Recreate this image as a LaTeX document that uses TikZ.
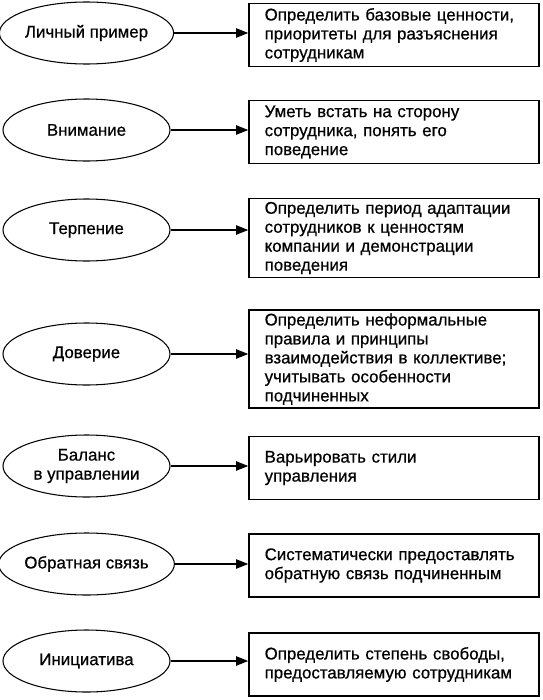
\documentclass[tikz,border=0pt]{standalone}
\usepackage{fontspec}
\setmainfont{Liberation Sans}[BoldFont=Liberation Sans,BoldFeatures={FakeBold=0.6}]
\usepackage{tikz}
\usetikzlibrary{shapes}
\usetikzlibrary{arrows.meta}
\tikzset{
	main node/.style={ellipse,draw,line width=0.9pt,minimum width=5.01cm,minimum height=1.86cm,
		inner sep=0pt,align=center,font=\fontsize{14.4}{16.2}\selectfont\bfseries},
	act node/.style={rectangle,draw,line width=1.4pt,text width=7.76cm,inner xsep=0.47cm,
		inner ysep=3pt,minimum height=1.9cm,align=left,font=\fontsize{14.4}{16.2}\selectfont\bfseries}
}

\begin{document}
\begin{tikzpicture}[->,>={Triangle[length=3.6mm,width=2.8mm]},line width=1pt,
		x=0.03cm,y=-0.03cm]
	\useasboundingbox (0,0) rectangle (543,700);
	% ellipses
	\node [main node] (1) at (86.5,33) {Личный пример};
	\node [main node] (2) at (86.5,130) {Внимание};
	\node [main node] (3) at (86.5,230) {Терпение};
	\node [main node] (4) at (86.5,354) {Доверие};
	\node [main node] (5) at (86.5,466) {Баланс\\в управлении};
	\node [main node] (6) at (86.5,564) {Обратная связь};
	\node [main node] (7) at (86.5,661) {Инициатива};
	% boxes
	\node [act node] (11) at (394,35) {Определить базовые ценности,\\приоритеты для разъяснения\\сотрудникам};
	\node [act node] (12) at (394,132) {Уметь встать на сторону\\сотрудника, понять его\\поведение};
	\node [act node] (13) at (394,238) {Определить период адаптации\\сотрудников к ценностям\\компании и демонстрации\\поведения};
	\node [act node] (14) at (394,359) {Определить неформальные\\правила и принципы\\взаимодействия в коллективе;\\учитывать особенности\\подчиненных};
	\node [act node] (15) at (394,468) {Варьировать стили\\управления};
	\node [act node] (16) at (394,565.5) {Систематически предоставлять\\обратную связь подчиненным};
	\node [act node] (17) at (394,664.5) {Определить степень свободы,\\предоставляемую сотрудникам};
	% arrows
	\draw (1.east) -- (1.east -| 11.west);
	\draw (2.east) -- (2.east -| 12.west);
	\draw (3.east) -- (3.east -| 13.west);
	\draw (4.east) -- (4.east -| 14.west);
	\draw (5.east) -- (5.east -| 15.west);
	\draw (6.east) -- (6.east -| 16.west);
	\draw (7.east) -- (7.east -| 17.west);
\end{tikzpicture}
\end{document}
